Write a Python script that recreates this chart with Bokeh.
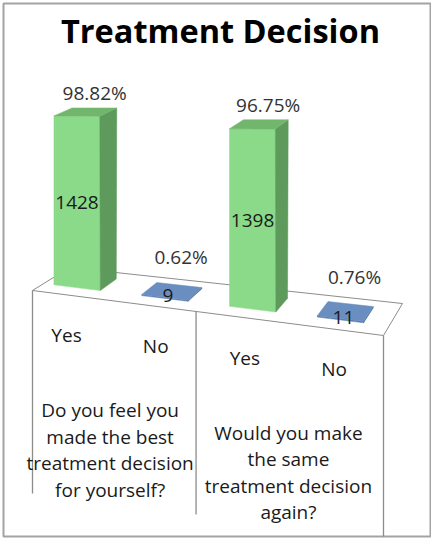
import numpy as np
from bokeh.plotting import figure
from bokeh.core.properties import value
from bokeh.embed import file_html
from bokeh.resources import INLINE

# ---------------- data ----------------
chart_title = "Treatment Decision"
answers = ["Yes", "No", "Yes", "No"]
question_index = [0, 0, 1, 1]
questions = [
    ["Do you feel you", "made the best", "treatment decision", "for yourself?"],
    ["Would you make", "the same", "treatment decision", "again?"],
]
counts = [1428, 9, 1398, 11]
percents = [98.82, 0.62, 96.75, 0.76]

# ---------------- figure ----------------
W, H = 431, 538
p = figure(width=W, height=H, x_range=(3, 430), y_range=(536, 3),
           min_border_left=3, min_border_right=1, min_border_top=3, min_border_bottom=2,
           x_axis_location=None, y_axis_location=None,
           toolbar_location=None, tools="", output_backend="svg")
p.grid.visible = False
p.outline_line_color = "#a3a3a3"
p.outline_line_width = 2
p.background_fill_color = "white"
p.border_fill_color = "white"

FONT = value("Open Sans")

# ---------------- pseudo-3D projection ----------------
FL = np.array([32.0, 290.0]); FR = np.array([383.0, 335.0])
BL = np.array([69.0, 267.0]); BR = np.array([402.0, 303.0])


def floor_pt(u, d):
    front = FL + u * (FR - FL)
    back = BL + u * (BR - BL)
    return front + d * (back - front)


U0, DU, HALF = 0.097, 0.254, 0.067
D0, D1 = 0.30, 0.77
K0, KP = 0.1178, 0.146
H_REF = 1400.0
M_TOP = np.array([[1.0, -0.083], [-0.0695, 0.62]])
I2 = np.eye(2)

palette = {"Yes": ("#8bda89", "#5d9a5c", "#72b66e"),
           "No": ("#587eae", "#4a6c98", "#6b8ec0")}

# floor
fl = [floor_pt(0, 0), floor_pt(1, 0), floor_pt(1, 1), floor_pt(0, 1)]
p.patch([q[0] for q in fl], [q[1] for q in fl], fill_color="white",
        line_color="#8c8c8c", line_width=1)

# vertical category separators
n_groups = len(questions)
bounds_u = [0.0] + [U0 + (2 * g + 1.5) * DU - 0.012 for g in range(n_groups - 1)] + [1.0]
x0s, y0s, x1s, y1s = [], [], [], []
for u in bounds_u:
    pt = floor_pt(u, 0)
    x0s.append(pt[0]); y0s.append(pt[1]); x1s.append(pt[0]); y1s.append(pt[1] + 203)
p.segment(x0s, y0s, x1s, y1s, line_color="#8c8c8c", line_width=1.3)

# bars
face_xs, face_ys, face_cols = [], [], []
pct_x, pct_y, pct_t = [], [], []
cnt_x, cnt_y, cnt_t = [], [], []
for i, (n, pc, ans) in enumerate(zip(counts, percents, answers)):
    c = U0 + i * DU
    A = floor_pt(c - HALF, D0); B = floor_pt(c + HALF, D0)
    C = floor_pt(c + HALF, D1); D = floor_pt(c - HALF, D1)
    t = min(n / H_REF, 1.0)
    M = I2 + t * (M_TOP - I2)
    k = K0 * (1 + KP * (c - HALF))
    lift = np.array([0.0, -n * k])
    At, Bt, Ct, Dt = [A + lift + M @ (P - A) for P in (A, B, C, D)]
    front, side, top = palette[ans]
    for quad, col in (((A, B, Bt, At), front), ((B, C, Ct, Bt), side),
                      ((At, Bt, Ct, Dt), top)):
        face_xs.append([q[0] for q in quad]); face_ys.append([q[1] for q in quad])
        face_cols.append(col)
    topc = (At + Bt + Ct + Dt) / 4
    pct_x.append(topc[0] + 9); pct_y.append(topc[1] - 19 - 15 * (1 - t))
    pct_t.append(f"{pc:.2f}%")
    fc = (A + B + At + Bt) / 4
    cnt_x.append(fc[0] + 3 * (1 - t)); cnt_y.append(fc[1] + 1 - 3 * (1 - t))
    cnt_t.append(str(n))

p.patches(face_xs, face_ys, fill_color=face_cols, line_color=face_cols, line_width=0.5)

p.text(pct_x, pct_y, text=pct_t, text_font=FONT, text_font_size="19px",
       text_color="#333333", text_align="center", text_baseline="middle")
p.text(cnt_x, cnt_y, text=cnt_t, text_font=FONT, text_font_size="19px",
       text_color="#1a1a1a", text_align="center", text_baseline="middle")

# answer labels
ax, ay = [], []
for i in range(len(answers)):
    pt = floor_pt(U0 + i * DU, 0)
    ax.append(pt[0]); ay.append(pt[1] + 40)
p.text(ax, ay, text=answers, text_font=FONT, text_font_size="19px",
       text_color="#1a1a1a", text_align="center", text_baseline="middle")

# question labels
qx, qy, qt = [], [], []
for g, lines in enumerate(questions):
    members = [i for i, q in enumerate(question_index) if q == g]
    uc = np.mean([U0 + i * DU for i in members])
    pt = floor_pt(uc, 0)
    for j, line in enumerate(lines):
        qx.append(pt[0] - 1); qy.append(pt[1] + 109.5 + 26.5 * j); qt.append(line)
p.text(qx, qy, text=qt, text_font=FONT, text_font_size="19px",
       text_color="#1a1a1a", text_align="center", text_baseline="middle")

# title
p.text([220], [30], text=[chart_title], text_font=FONT, text_font_size="32.5px",
       text_font_style="bold", text_color="#000000", text_align="center",
       text_baseline="middle")

open("out.html", "w").write(file_html(p, INLINE))
